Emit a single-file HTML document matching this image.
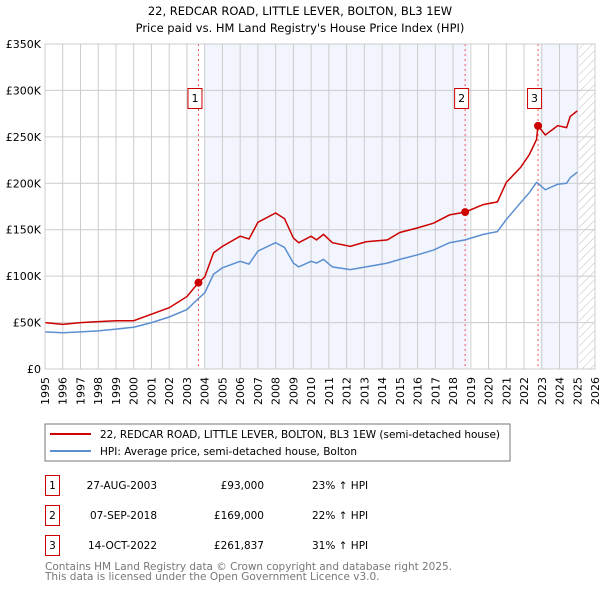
<!DOCTYPE html>
<html><head><meta charset="utf-8"><style>
body{margin:0;background:#fff;font-family:"DejaVu Sans","Liberation Sans",sans-serif;}
svg text{font-family:"DejaVu Sans","Liberation Sans",sans-serif;}
</style></head><body>
<svg id="chart" width="600" height="590" viewBox="0 0 600 590" xmlns="http://www.w3.org/2000/svg">
<defs><pattern id="hatch" width="6" height="6" patternUnits="userSpaceOnUse" patternTransform="rotate(45)"><line x1="0" y1="0" x2="0" y2="6" stroke="#bbb" stroke-width="1"/></pattern></defs>
<text x="300" y="15" text-anchor="middle" font-size="11.5" fill="#000">22, REDCAR ROAD, LITTLE LEVER, BOLTON, BL3 1EW</text>
<text x="300" y="32" text-anchor="middle" font-size="11.5" fill="#000">Price paid vs. HM Land Registry's House Price Index (HPI)</text>
<g id="plot"></g>
<rect x="45" y="424" width="465" height="37" fill="#fff" stroke="#777"/>
<line x1="50" y1="434" x2="91" y2="434" stroke="#cc0000" stroke-width="2"/>
<text x="100" y="438" font-size="10.5" textLength="400">22, REDCAR ROAD, LITTLE LEVER, BOLTON, BL3 1EW (semi-detached house)</text>
<line x1="50" y1="451" x2="91" y2="451" stroke="#5b8fd0" stroke-width="2"/>
<text x="100" y="455" font-size="10.5">HPI: Average price, semi-detached house, Bolton</text>
<g font-size="10.5">
<rect x="45.5" y="475.5" width="14" height="20" fill="none" stroke="#cc0000"/><text x="52.5" y="489" text-anchor="middle">1</text>
<text x="157" y="489" text-anchor="end">27-AUG-2003</text>
<text x="264" y="489" text-anchor="end">£93,000</text>
<text x="312" y="489">23% ↑ HPI</text>
<rect x="45.5" y="505.5" width="14" height="20" fill="none" stroke="#cc0000"/><text x="52.5" y="519" text-anchor="middle">2</text>
<text x="157" y="519" text-anchor="end">07-SEP-2018</text>
<text x="264" y="519" text-anchor="end">£169,000</text>
<text x="312" y="519">22% ↑ HPI</text>
<rect x="45.5" y="535.5" width="14" height="20" fill="none" stroke="#cc0000"/><text x="52.5" y="549" text-anchor="middle">3</text>
<text x="157" y="549" text-anchor="end">14-OCT-2022</text>
<text x="264" y="549" text-anchor="end">£261,837</text>
<text x="312" y="549">31% ↑ HPI</text>
</g>
<text x="45" y="570" font-size="10.5" fill="#777" textLength="407">Contains HM Land Registry data © Crown copyright and database right 2025.</text>
<text x="45" y="580" font-size="10.5" fill="#777">This data is licensed under the Open Government Licence v3.0.</text>
</svg>
<script>
const years=[1995,1996,1997,1998,1999,2000,2001,2002,2003,2003.65,2004,2004.5,2005,2006,2006.5,2007,2008,2008.5,2009,2009.3,2010,2010.3,2010.7,2011.2,2012.2,2013.1,2014.3,2015,2016,2016.9,2017.8,2018.68,2019.7,2020.5,2021,2021.8,2022.3,2022.7,2022.79,2023.2,2023.9,2024.4,2024.6,2025];
const hpiValues=[40,39,40,41,43,45,50,56,64,76,82,102,109,116,113,127,136,131,114,110,116,114,118,110,107,110,114,118,123,128,136,139,145,148,161,179,190,201,200,193,199,200,206,212];
const priceValues=[50,48,50,51,52,52,59,66,78,93,99,125,132,143,140,158,168,162,141,136,143,139,145,136,132,137,139,147,152,157,166,169,177,180,201,217,231,247,262,252,262,260,272,278];
const saleYears=[2003.65,2018.68,2022.79];
const saleValues=[93,169,261.837];
const saleLabels=["1","2","3"];
const yTicks=[0,50,100,150,200,250,300,350];
const yTickLabels=["£0","£50K","£100K","£150K","£200K","£250K","£300K","£350K"];
const xStart=1995,xEnd=2026;
const L=45,R=595,T=44,B=369;
function xs(y){return L+(y-xStart)/(xEnd-xStart)*(R-L);}
function ys(v){return B-v/350*(B-T);}
const NS="http://www.w3.org/2000/svg";
const g=document.getElementById('plot');
function mk(tag,attrs,parent){const e=document.createElementNS(NS,tag);for(const k in attrs)e.setAttribute(k,attrs[k]);(parent||g).appendChild(e);return e;}
let s1=mk('rect',{x:xs(2004),y:T,width:xs(2018.9)-xs(2004),height:B-T,fill:'#f2f5fd'});


let s2=mk('rect',{x:xs(2022.9),y:T,width:xs(2025.1)-xs(2022.9),height:B-T,fill:'#f2f5fd'});


let h=mk('rect',{x:xs(2025.1),y:T,width:R-xs(2025.1),height:B-T,fill:'url(#hatch)'});


for(let yr=xStart;yr<=xEnd;yr++){
  let l=mk('line',{x1:xs(yr),x2:xs(yr),y1:T,y2:B,stroke:'#ccc','stroke-width':1});
  
  
  let t=mk('text',{transform:`translate(${xs(yr)+4},${B+36}) rotate(-90)`,'font-size':11,fill:'#000'});
  
  
  t.textContent=yr;
}
yTicks.forEach((v,i)=>{
  let l=mk('line',{x1:L,x2:R,y1:ys(v),y2:ys(v),stroke:'#ccc','stroke-width':1});
  
  
  let t=mk('text',{x:L-4,y:ys(v)+4,'text-anchor':'end','font-size':11,fill:'#000'});
  
  
  t.textContent=yTickLabels[i];
});
saleYears.forEach((sy,i)=>{
  let l=mk('line',{x1:xs(sy),x2:xs(sy),y1:T,y2:B,stroke:'#ee5555','stroke-width':1,'stroke-dasharray':'2,3'});
  
  
  let bx=mk('rect',{x:xs(sy)-10.5,y:88.5,width:14,height:20,fill:'#fff',stroke:'#cc0000'});
  
  
  let t=mk('text',{x:xs(sy)-3.5,y:102,'text-anchor':'middle','font-size':11});
  
  
  t.textContent=saleLabels[i];
});
function pts(arr){return years.map((y,i)=>xs(y).toFixed(1)+','+ys(arr[i]).toFixed(1)).join(' ');}
let hp=mk('polyline',{points:pts(hpiValues),fill:'none',stroke:'#5b8fd0','stroke-width':1.5});


let pp=mk('polyline',{points:pts(priceValues),fill:'none',stroke:'#cc0000','stroke-width':1.5});


saleYears.forEach((sy,i)=>{
  let c=mk('circle',{cx:xs(sy),cy:ys(saleValues[i]),r:4,fill:'#cc0000'});
  
  
});
let ax=mk('rect',{x:L,y:T,width:R-L,height:B-T,fill:'none',stroke:'#ccc'});


</script>
</body></html>
